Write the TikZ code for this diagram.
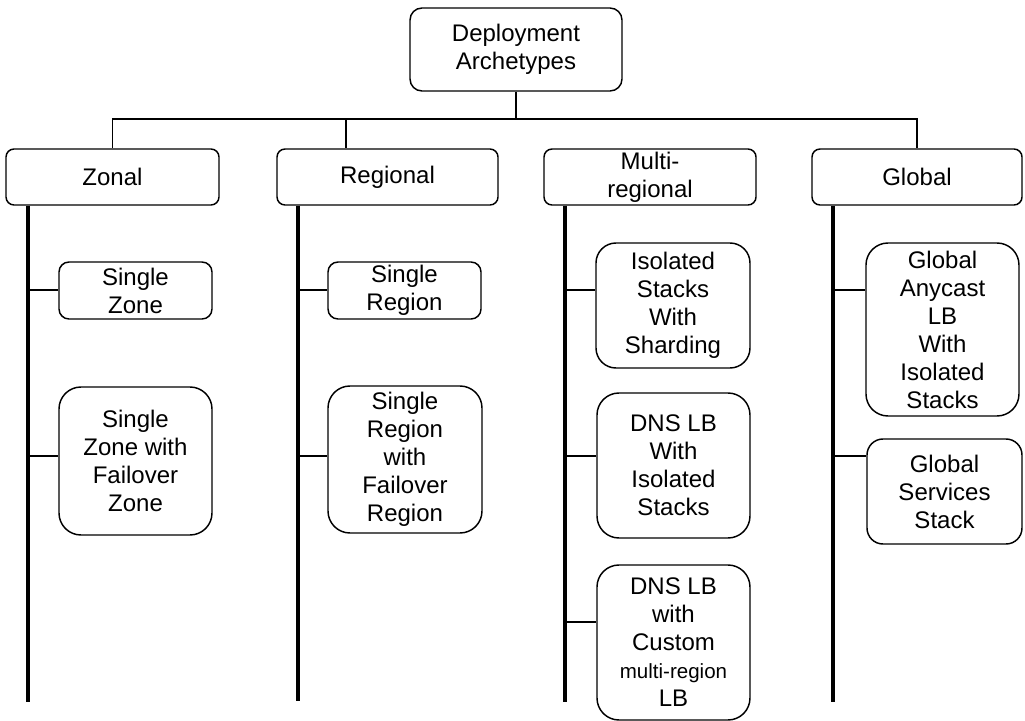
\documentclass[tikz,border=0pt]{standalone}
\usepackage{fontspec}
\setmainfont{Liberation Sans}
\newcommand{\boxfont}{\fontsize{18pt}{21pt}\selectfont}
\newcommand{\smallline}{\fontsize{15.4pt}{19pt}\selectfont}
\begin{document}
\begin{tikzpicture}[x=0.75pt,y=-0.75pt,
  box/.style={draw=black, line width=1.1pt, align=center, inner sep=0pt,
              font=\boxfont, text=black},
  catbox/.style={box, minimum height=42pt, rounded corners=6pt},
  leafbox/.style={box, minimum width=114.75pt},
  conn/.style={line width=1.1pt},
  spine/.style={line width=2.6pt},
  tick/.style={line width=0.8pt}]
\useasboundingbox (0,0) rectangle (1025,721);

% root
\node[box, minimum width=159pt, minimum height=62.25pt, rounded corners=9pt]
  (root) at (516,49.5) {Deployment\\Archetypes};

% categories
\node[catbox, minimum width=159.75pt] (zonal)    at (112.5,177) {Zonal};
\node[catbox, minimum width=165.75pt] (regional) at (387.5,177) {Regional};
\node[catbox, minimum width=159pt]    (multi)    at (650,177)   {Multi-\\regional};
\node[catbox, minimum width=157.5pt]  (global)   at (917,177)   {Global};

% tree connectors
\coordinate (bar) at (0,119);
\coordinate (rdrop) at (346,119);
\draw[conn] (root.south) -- (root.south |- bar);
\draw[conn] (zonal.north) -- (zonal.north |- bar) -| (global.north);
\draw[conn] (rdrop) -- (rdrop |- regional.north);

% spines
\coordinate (zend) at (28,702);
\coordinate (rend) at (298,701);
\coordinate (mend) at (565,702);
\coordinate (gend) at (833,702);
\draw[spine] (zonal.south -| zend) -- (zend);
\draw[spine] (regional.south -| rend) -- (rend);
\draw[spine] (multi.south -| mend) -- (mend);
\draw[spine] (global.south -| gend) -- (gend);

% zonal leaves
\node[leafbox, minimum height=42.75pt, rounded corners=7.5pt] (sz) at (135.5,290.5) {Single\\Zone};
\node[leafbox, minimum height=111pt, rounded corners=16.5pt] (szf) at (135.5,461) {Single\\Zone with\\Failover\\Zone};

% regional leaves
\node[leafbox, minimum height=42.75pt, rounded corners=7.5pt] (sr) at (404.5,290.5) {Single\\Region};
\node[leafbox, minimum width=115.5pt, minimum height=110.25pt, rounded corners=16.5pt] (srf) at (405,459.5) {Single\\Region\\with\\Failover\\Region};

% multi-regional leaves
\node[leafbox, minimum width=115.5pt, minimum height=93.75pt, rounded corners=15pt] (iss) at (673,305.5) {Isolated\\Stacks\\With\\Sharding};
\node[leafbox, minimum height=108.75pt, rounded corners=16.5pt] (dns1) at (673.5,465.5) {DNS LB\\With\\Isolated\\Stacks};
\node[leafbox, minimum height=116.25pt, rounded corners=16.5pt] (dns2) at (673.5,642.5) {DNS LB\\with\\Custom\\{\smallline multi-region}\\LB};

% global leaves
\node[leafbox, minimum height=129.75pt, rounded corners=16.5pt] (gal) at (942.5,329.5) {Global\\Anycast\\LB\\With\\Isolated\\Stacks};
\node[leafbox, minimum width=116.25pt, minimum height=78.75pt, rounded corners=12pt] (gss) at (944.5,491.5) {Global\\Services\\Stack};

% ticks from spines to leaves
\coordinate (z1) at (26,290);  \coordinate (z2) at (26,456);
\coordinate (r1) at (296,290); \coordinate (r2) at (296,456);
\coordinate (m1) at (563,290); \coordinate (m2) at (563,456); \coordinate (m3) at (563,622);
\coordinate (g1) at (831,290); \coordinate (g2) at (831,456);
\draw[tick] (z1) -- (z1 -| sz.west);
\draw[tick] (z2) -- (z2 -| szf.west);
\draw[tick] (r1) -- (r1 -| sr.west);
\draw[tick] (r2) -- (r2 -| srf.west);
\draw[tick] (m1) -- (m1 -| iss.west);
\draw[tick] (m2) -- (m2 -| dns1.west);
\draw[tick] (m3) -- (m3 -| dns2.west);
\draw[tick] (g1) -- (g1 -| gal.west);
\draw[tick] (g2) -- (g2 -| gss.west);
\end{tikzpicture}
\end{document}
